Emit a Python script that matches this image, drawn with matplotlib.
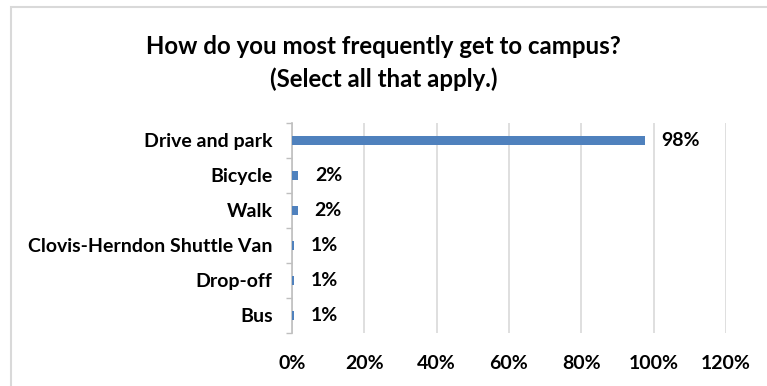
import matplotlib
matplotlib.use("Agg")
import matplotlib.pyplot as plt
from matplotlib.patches import Rectangle
from matplotlib.ticker import FixedLocator

# data (percent of respondents)
modes = ['Drive and park', 'Bicycle', 'Walk', 'Clovis-Herndon Shuttle Van', 'Drop-off', 'Bus']
share = [97.6, 1.7, 1.6, 0.6, 0.6, 0.5]
xticks = [0, 20, 40, 60, 80, 100, 120]
title_lines = ['How do you most frequently get to campus?', '(Select all that apply.)']

plt.rcParams['font.family'] = ['Lato', 'DejaVu Sans']
plt.rcParams['font.weight'] = 'bold'
fs = 14

W, H = 767, 386
fig = plt.figure(figsize=(W / 100, H / 100), dpi=100)
ax = fig.add_axes([292 / W, 1 - 333 / H, (726 - 292) / W, (333 - 123) / H])

# outer chart border (cut off at right and bottom like the source)
fig.patches.append(Rectangle((11 / W, -0.05), 1.1, 1 - 7 / H + 0.05, transform=fig.transFigure,
                             fill=False, edgecolor='#d9d9d9', linewidth=1.5))

ypos = list(range(len(modes)))[::-1]
ax.barh(ypos, share, height=0.28, color='#4f81bd', zorder=3)

for y, v in zip(ypos, share):
    ax.annotate('%d%%' % int(v + 0.5), (v, y), xytext=(12, 0), textcoords='offset points',
                ha='left', va='center', fontsize=fs, fontweight='bold', color='black')

ax.set_xlim(0, 120)
ax.set_ylim(-0.5, len(modes) - 0.5)
ax.set_xticks(xticks)
ax.set_xticklabels(['%d%%' % t for t in xticks])
ax.set_yticks(ypos)
ax.set_yticklabels(modes)
ax.yaxis.set_minor_locator(FixedLocator([i - 0.5 for i in range(len(modes) + 1)]))

ax.tick_params(axis='x', length=0, pad=16, labelsize=fs)
ax.tick_params(axis='y', which='major', length=0, pad=14, labelsize=fs)
ax.tick_params(axis='y', which='minor', length=4.5, color='#bfbfbf', width=1)
for lab in ax.get_xticklabels() + ax.get_yticklabels():
    lab.set_fontweight('bold')

ax.grid(axis='x', color='#d9d9d9', linewidth=1.2, zorder=0)
for s in ['top', 'right', 'bottom']:
    ax.spines[s].set_visible(False)
ax.spines['left'].set_color('#bfbfbf')
ax.spines['left'].set_linewidth(1.2)

fig.text(0.5, 1 - 46 / H, title_lines[0], ha='center', va='center', fontsize=17.3, fontweight='bold')
fig.text(0.5, 1 - 79 / H, title_lines[1], ha='center', va='center', fontsize=17.3, fontweight='bold')

fig.savefig('out.png', dpi=100)
